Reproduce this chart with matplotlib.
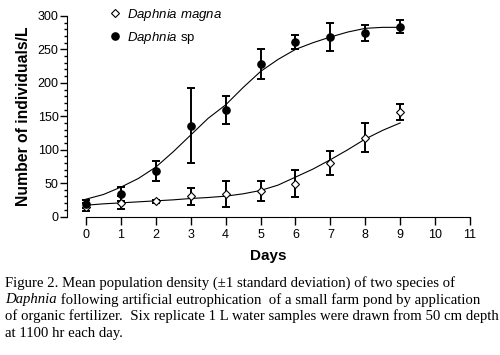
import matplotlib
matplotlib.use("Agg")
import matplotlib.pyplot as plt
from matplotlib.ticker import MultipleLocator

plt.rcParams['font.family'] = ['Liberation Sans', 'DejaVu Sans']
plt.rcParams['mathtext.fontset'] = 'custom'
plt.rcParams['mathtext.rm'] = 'Liberation Sans'
plt.rcParams['mathtext.it'] = 'Liberation Sans:italic'

days = [0, 1, 2, 3, 4, 5, 6, 7, 8, 9]
magna_mean = [15, 21, 23, 30, 34, 38, 49, 80, 118, 156]
magna_sd = [6, 10, 2, 12.5, 19.5, 15, 20, 18, 22, 12]
sp_mean = [19, 34, 68, 136, 159, 228, 261, 269, 275, 284]
sp_sd = [6, 10, 15.5, 56, 21, 23, 10, 21, 12, 10]

fit_days = [0, 0.5, 1, 1.5, 2, 2.5, 3, 3.5, 4, 4.5, 5, 5.5, 6, 6.5, 7, 7.5, 8, 8.5, 9]
magna_fit = [17, 19, 20.5, 22, 23.5, 25, 27, 28.5, 30.5, 34, 39, 47, 59, 71, 85, 100, 116, 129, 140]
sp_fit = [26, 33, 44, 57, 74, 97, 122, 147, 167, 193, 217, 235, 250, 260, 268.5, 276, 281.5, 283, 283]

caption = [
    "Figure 2. Mean population density (\u00b11 standard deviation) of two species of",
    " following artificial eutrophication  of a small farm pond by application",
    "of organic fertilizer.  Six replicate 1 L water samples were drawn from 50 cm depth",
    "at 1100 hr each day.",
]

fig = plt.figure(figsize=(5, 3.55), dpi=100)
ax = fig.add_axes([0.134, 0.39, 0.806, 0.565])

ax.plot(fit_days, magna_fit, color='black', lw=0.8)
ax.plot(fit_days, sp_fit, color='black', lw=0.8)

ax.errorbar(days, magna_mean, yerr=magna_sd, fmt='none', ecolor='black',
            elinewidth=1.4, capsize=3, capthick=1.4)
ax.errorbar(days, sp_mean, yerr=sp_sd, fmt='none', ecolor='black',
            elinewidth=1.4, capsize=3, capthick=1.4)
h1, = ax.plot(days, magna_mean, 'D', ms=4.2, mfc='white', mec='black', mew=0.8, ls='none')
h2, = ax.plot(days, sp_mean, 'o', ms=5.2, mfc='black', mec='black', ls='none')

ax.legend([h1, h2], [r'$\it{Daphnia\ magna}$', r'$\it{Daphnia}$ sp'],
          loc='upper left', bbox_to_anchor=(0.07, 1.105), frameon=False,
          fontsize=9.5, handlelength=1.2, handletextpad=0.3, labelspacing=0.55)

ax.set_xlim(-0.545, 11)
ax.set_ylim(0, 300)
ax.spines['top'].set_visible(False)
ax.spines['right'].set_visible(False)
ax.spines['bottom'].set_bounds(0, 11)
ax.set_xticks(range(0, 12))
ax.yaxis.set_major_locator(MultipleLocator(50))
ax.yaxis.set_minor_locator(MultipleLocator(10))
ax.tick_params(axis='x', length=6, width=1, labelsize=9, pad=3)
ax.tick_params(axis='y', which='major', length=5, width=1, labelsize=9, pad=1)
ax.tick_params(axis='y', which='minor', length=2.5, width=1)

ax.set_xlabel('Days', fontsize=11, fontweight='bold', labelpad=6)
ax.set_ylabel('Number of individuals/L', fontsize=11.3, fontweight='bold', labelpad=5)

# caption below the chart, with "Daphnia" in italics on line 2
serif = ['Liberation Serif', 'DejaVu Serif']
y0 = 1 - 283 / 355
step = 16.7 / 355
fs = 10.6
fig.text(0.01, y0, caption[0], family=serif, fontsize=fs, va='center')
t = fig.text(0.01, y0 - step, 'Daphnia', family=serif, style='italic', fontsize=fs, va='center')
ax.annotate(caption[1], xy=(1, 0.5), xycoords=t, va='center', ha='left',
            family=serif, fontsize=fs, annotation_clip=False)
fig.text(0.01, y0 - 2 * step, caption[2], family=serif, fontsize=fs, va='center')
fig.text(0.01, y0 - 3 * step, caption[3], family=serif, fontsize=fs, va='center')

fig.savefig('out.png', dpi=100)
